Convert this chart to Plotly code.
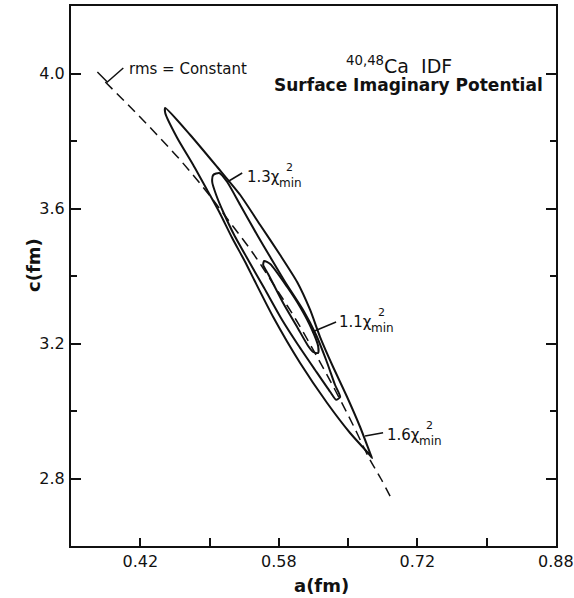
import plotly.graph_objects as go

# ---- data (a in fm, c in fm) ----
outer_a = [0.4476, 0.4753, 0.5051, 0.5306, 0.5527, 0.5748, 0.5936, 0.6080, 0.6190, 0.6334,
           0.6489, 0.6633, 0.6743, 0.6765, 0.6721, 0.6522, 0.6268, 0.5969, 0.5671, 0.5461,
           0.5361, 0.5217, 0.5074, 0.4952, 0.4786, 0.4609, 0.4476, 0.4476]
outer_c = [3.8978, 3.8178, 3.7230, 3.6400, 3.5511, 3.4622, 3.3822, 3.2993, 3.2192, 3.1304,
           3.0415, 2.9526, 2.8755, 2.8607, 2.8755, 2.9348, 3.0237, 3.1422, 3.2785, 3.3881,
           3.4415, 3.5126, 3.5896, 3.6489, 3.7289, 3.8089, 3.8830, 3.8978]

mid_a = [0.5007, 0.5074, 0.5162, 0.5306, 0.5494, 0.5638, 0.5803, 0.6002, 0.6146, 0.6257,
         0.6356, 0.6412, 0.6367, 0.6301, 0.6135, 0.5947, 0.5770, 0.5571, 0.5394, 0.5239,
         0.5118, 0.5040, 0.4996, 0.5007]
mid_c = [3.6993, 3.7052, 3.6785, 3.6104, 3.5215, 3.4563, 3.3822, 3.2993, 3.2252, 3.1511,
         3.0770, 3.0415, 3.0333, 3.0570, 3.1215, 3.1955, 3.2696, 3.3644, 3.4474, 3.5215,
         3.5896, 3.6400, 3.6785, 3.6993]

inner_a = [0.5571, 0.5638, 0.5826, 0.5969, 0.6102, 0.6168, 0.6168, 0.6113, 0.6058, 0.5936,
           0.5781, 0.5615, 0.5560, 0.5571]
inner_c = [3.4444, 3.4355, 3.3674, 3.3082, 3.2400, 3.1926, 3.1718, 3.1748, 3.1926, 3.2489,
           3.3200, 3.4059, 3.4326, 3.4444]

rms_a = [0.3813, 0.4089, 0.4366, 0.4642, 0.4919, 0.5173, 0.5438, 0.5693, 0.5925, 0.6146,
         0.6356, 0.6555, 0.6732, 0.6865, 0.6987]
rms_c = [3.9748, 3.9007, 3.8237, 3.7437, 3.6548, 3.5659, 3.4711, 3.3674, 3.2696, 3.1659,
         3.0622, 2.9585, 2.8607, 2.7985, 2.7363]

check_a = [0.3725, 0.3835, 0.4012]
check_c = [4.0044, 3.9748, 4.0163]

# leader lines for contour labels
lead13_a = [0.5162, 0.5328]; lead13_c = [3.6785, 3.7052]
lead11_a = [0.6102, 0.6367]; lead11_c = [3.2341, 3.2637]
lead16_a = [0.6688, 0.6887]; lead16_c = [2.9259, 2.9356]

x_tickvals = [0.42, 0.573333, 0.726667, 0.88]
x_ticktext = ["0.42", "0.58", "0.72", "0.88"]
x_minorvals = [0.496667, 0.65, 0.803333]
y_tickvals = [2.8, 3.2, 3.6, 4.0]
y_ticktext = ["2.8", "3.2", "3.6", "4.0"]
y_minorvals = [3.0, 3.4, 3.8]

# labels: (text, a, c)
contour_labels = [("1.3", 0.5361, 3.6933), ("1.1", 0.6378, 3.2637), ("1.6", 0.6909, 2.9289)]

BLACK = "#111111"
FONT = "DejaVu Sans"

fig = go.Figure()
for xa, yc in [(outer_a, outer_c), (mid_a, mid_c), (inner_a, inner_c)]:
    fig.add_trace(go.Scatter(x=xa, y=yc, mode="lines",
                             line=dict(color=BLACK, width=2, shape="spline", smoothing=0.6),
                             hoverinfo="skip", showlegend=False))
fig.add_trace(go.Scatter(x=rms_a, y=rms_c, mode="lines",
                         line=dict(color=BLACK, width=1.5, dash="10px,6px", shape="spline"),
                         hoverinfo="skip", showlegend=False))
for xa, yc in [(check_a, check_c), (lead13_a, lead13_c), (lead11_a, lead11_c), (lead16_a, lead16_c)]:
    fig.add_trace(go.Scatter(x=xa, y=yc, mode="lines",
                             line=dict(color=BLACK, width=1.5),
                             hoverinfo="skip", showlegend=False))

ann = []
for txt, a, c in contour_labels:
    ann.append(dict(x=a, y=c, xref="x", yref="y", text=txt + "χ", showarrow=False,
                    xanchor="left", yanchor="middle", font=dict(size=15, family=FONT, color=BLACK)))
    ann.append(dict(x=a, y=c, xref="x", yref="y", text="min", showarrow=False,
                    xanchor="left", yanchor="middle", xshift=32, yshift=-6,
                    font=dict(size=12, family=FONT, color=BLACK)))
    ann.append(dict(x=a, y=c, xref="x", yref="y", text="2", showarrow=False,
                    xanchor="left", yanchor="middle", xshift=39, yshift=10,
                    font=dict(size=11, family=FONT, color=BLACK)))

ann.append(dict(x=0.4056, y=4.0133, xref="x", yref="y", text="rms = Constant", showarrow=False,
                xanchor="left", yanchor="middle", font=dict(size=15, family=FONT, color=BLACK)))
ann.append(dict(x=0.7064, y=4.0252, xref="x", yref="y", text="<sup>40,48</sup>Ca&nbsp;&nbsp;IDF",
                showarrow=False, xanchor="center", yanchor="middle",
                font=dict(size=19, family=FONT, color=BLACK)))
ann.append(dict(x=0.7169, y=3.9659, xref="x", yref="y", text="<b>Surface Imaginary Potential</b>",
                showarrow=False, xanchor="center", yanchor="middle",
                font=dict(size=17, family=FONT, color=BLACK)))
# axis titles
ann.append(dict(x=0.5175, y=0, xref="paper", yref="paper", yshift=-39, text="<b>a(fm)</b>",
                showarrow=False, xanchor="center", yanchor="middle",
                font=dict(size=18, family=FONT, color=BLACK)))
ann.append(dict(x=0, y=0.5204, xref="paper", yref="paper", xshift=-37, text="<b>c(fm)</b>",
                textangle=-90, showarrow=False, xanchor="center", yanchor="middle",
                font=dict(size=18, family=FONT, color=BLACK)))

fig.update_layout(
    width=574, height=598,
    margin=dict(l=71, r=18, t=6, b=52, autoexpand=False),
    paper_bgcolor="white", plot_bgcolor="white",
    annotations=ann,
    font=dict(family=FONT, color=BLACK),
)
fig.update_xaxes(
    range=[0.3433, 0.8801], showgrid=False, zeroline=False, automargin=False,
    showline=True, linecolor=BLACK, linewidth=2, mirror=True,
    tickmode="array", tickvals=x_tickvals, ticktext=x_ticktext,
    ticks="inside", ticklen=8, tickwidth=1.5, tickcolor=BLACK,
    tickfont=dict(size=16, family=FONT, color=BLACK), ticklabelstandoff=0,
    minor=dict(tickmode="array", tickvals=x_minorvals, ticks="inside", ticklen=8,
               tickwidth=1.5, tickcolor=BLACK, showgrid=False),
)
fig.update_yaxes(
    range=[2.6, 4.2], showgrid=False, zeroline=False, automargin=False,
    showline=True, linecolor=BLACK, linewidth=2, mirror="ticks",
    tickmode="array", tickvals=y_tickvals, ticktext=y_ticktext,
    ticks="inside", ticklen=10, tickwidth=1.5, tickcolor=BLACK,
    tickfont=dict(size=16, family=FONT, color=BLACK), ticklabelstandoff=1,
    minor=dict(tickmode="array", tickvals=y_minorvals, ticks="inside", ticklen=6,
               tickwidth=1.5, tickcolor=BLACK, showgrid=False),
)

fig.write_html("out.html", config={"displayModeBar": False},
               post_script="document.body.style.margin='0px';document.body.style.overflow='hidden';")
